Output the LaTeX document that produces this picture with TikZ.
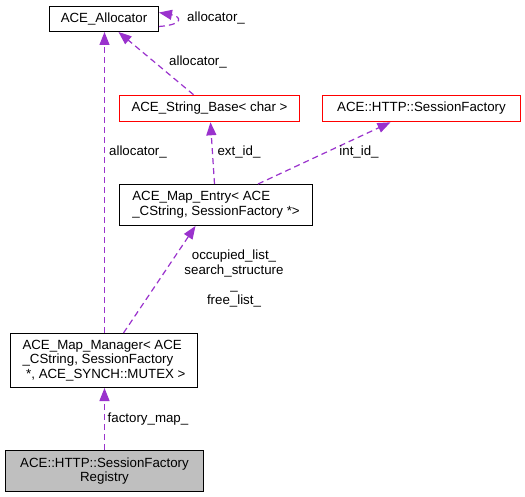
\documentclass[tikz,border=0pt]{standalone}
\usepackage{fontspec}
\setmainfont{Liberation Sans}
\usetikzlibrary{arrows.meta,calc}
\definecolor{edgecol}{HTML}{9A32CD}
\definecolor{regfill}{HTML}{BFBFBF}
\begin{document}
\begin{tikzpicture}[x=1pt,y=-1pt,
  box/.style={draw=black,line width=1pt,inner sep=0pt,align=left,
    font=\fontsize{13.3}{14.8}\selectfont},
  redbox/.style={draw=red,line width=1.6pt,inner sep=0pt,align=left,
    font=\fontsize{13.3}{14.8}\selectfont},
  edge/.style={draw=edgecol,line width=1.2pt,dash pattern=on 6pt off 4pt,
    -{Triangle[length=13pt,width=10pt]}},
  lbl/.style={font=\fontsize{13.3}{14.8}\selectfont,inner sep=0pt,align=center}]
\useasboundingbox (0,0) rectangle (525,497);
\fill[white] (0,0) rectangle (525,497);
\node[box,minimum width=109pt,minimum height=25pt] (alloc) at (104,19) {ACE\_Allocator};
\node[redbox,minimum width=180pt,minimum height=26pt] (strb) at (209.5,108.5) {ACE\_String\_Base< char >};
\node[redbox,minimum width=198pt,minimum height=26pt] (sfac) at (421.5,108.5) {ACE::HTTP::SessionFactory};
\node[box,minimum width=193pt,minimum height=41pt] (entry) at (216,205) {ACE\_Map\_Entry< ACE\\\_CString, SessionFactory *>};
\node[box,minimum width=187pt,minimum height=54pt] (mgr) at (104,360.5) {ACE\_Map\_Manager< ACE\\\_CString, SessionFactory\\\hspace*{0.278em}*, ACE\_SYNCH::MUTEX >};
\node[box,fill=regfill,align=center,minimum width=198pt,minimum height=41pt] (reg) at (104.5,471) {ACE::HTTP::SessionFactory\\Registry};

% edges
\draw[edge] ([yshift=-7.5pt]alloc.east) .. controls +(26,-2) and +(22,4) .. ([yshift=6.5pt]alloc.east);
\node[lbl,anchor=west] (l1) at (187,18) {allocator\_};
\draw[edge] ([xshift=-16pt]strb.north) -- ([xshift=14.5pt]alloc.south);
\node[lbl] (l2) at (198,62) {allocator\_};
\draw[edge] ([xshift=0.5pt]mgr.north) -- ([xshift=0.5pt]alloc.south);
\node[lbl] (l3) at (138,152) {allocator\_};
\draw[edge] ([xshift=-1.5pt]entry.north) -- ([xshift=1pt]strb.south);
\node[lbl] (l4) at (239,152) {ext\_id\_};
\draw[edge] ([xshift=42pt]entry.north) -- ([xshift=-31pt]sfac.south);
\node[lbl] (l5) at (359,152) {int\_id\_};
\draw[edge] ([xshift=19.5pt]mgr.north) -- ([xshift=-20.5pt]entry.south);
\node[lbl] (l6) at (234,278.5) {occupied\_list\_\\search\_structure\\\_\\free\_list\_};
\draw[edge] ([xshift=0.5pt]mgr.south |- reg.north) -- ([xshift=0.5pt]mgr.south);
\node[lbl] (l7) at (148,419) {factory\_map\_};
\end{tikzpicture}
\end{document}
